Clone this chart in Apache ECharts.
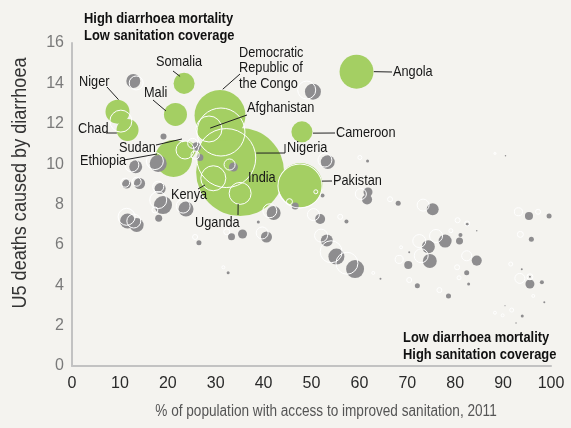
<!DOCTYPE html>
<html>
<head>
<meta charset="utf-8">
<script src="https://cdn.jsdelivr.net/npm/echarts@6/dist/echarts.min.js"></script>
<style>
  html, body { margin: 0; padding: 0; background: #f4f3ef; }
  #chart { width: 571px; height: 428px; }
</style>
</head>
<body>
<div id="chart"></div>
<script>
// Axis ticks
const xTicks = [0, 10, 20, 30, 40, 50, 60, 70, 80, 90, 100];
const yTicks = [0, 2, 4, 6, 8, 10, 12, 14, 16];

// Highlighted countries: sanitation access (%), share of U5 deaths from diarrhoea (%), deaths (thousands)
const hiNames  = ['India', 'Nigeria', 'Democratic Republic of the Congo', 'Pakistan', 'Ethiopia', 'Angola', 'Afghanistan', 'Kenya', 'Niger', 'Mali', 'Chad', 'Uganda', 'Somalia', 'Cameroon', 'Sudan'];
const hiAccess = [35.1, 32.2, 30.9, 47.7, 21.2, 59.4, 28.7, 29.5,  9.5, 21.6, 11.6, 35.1, 23.4, 48.0, 24.0];
const hiShare  = [9.61, 10.30, 12.41, 8.96, 10.28, 14.58, 11.72, 9.30, 12.60, 12.46, 11.69, 8.55, 14.00, 11.60, 10.70];
const hiDeaths = [215, 97, 72, 54, 38, 32, 19, 17.4, 16, 14.7, 13.4, 13.4, 12.3, 12.3, 9];

// All other countries
const otherAccess = [12.8, 19.1, 26.0, 26.7, 33.7, 13.3, 18.0, 11.4, 14.1, 18.4, 19.0, 18.1, 23.8, 11.6, 13.5, 26.5,
  33.3, 35.6, 40.6, 42.1, 46.6, 38.9, 51.8, 57.3, 53.2, 55.2, 59.1, 53.4, 61.7, 61.8, 61.6, 52.3,
  68.1, 75.3, 74.4, 77.9, 80.9, 81.1, 82.5, 74.7, 70.2, 84.5, 82.4, 82.8, 72.1, 78.6, 70.4, 64.4,
  95.4, 99.6, 95.9, 95.6, 95.6, 98.1, 98.6, 94.0, 84.5, 93.9, 32.6, 50.3, 90.5, 92.7, 90.4];
const otherShare = [14.12, 11.37, 10.86, 10.33, 9.86, 9.87, 10.03, 9.01, 9.04, 8.79, 7.97, 7.32, 7.78, 7.18, 6.98, 6.11,
  6.40, 6.54, 6.39, 7.58, 7.92, 7.13, 7.28, 7.16, 6.22, 5.42, 4.80, 10.10, 10.15, 8.62, 8.25, 8.45,
  8.06, 7.76, 5.91, 6.19, 6.19, 6.49, 7.02, 5.20, 5.00, 5.22, 4.62, 4.06, 3.98, 3.47, 5.63, 4.32,
  7.43, 7.43, 6.28, 4.06, 4.42, 4.15, 3.16, 2.48, 6.70, 4.79, 4.62, 13.59, 10.42, 2.13, 2.99];
const otherDeaths = [5.4, 1, 2.25, 1.36, 2.25, 4.7, 8, 2.25, 3.4, 3.4, 9, 1.36, 6.25, 6.25, 5.4, 0.7,
  1.36, 2.25, 3.4, 5.4, 1.36, 0.25, 2.8, 0.45, 4, 7.1, 9, 5.4, 0.25, 2.25, 2.8, 0.45,
  0.7, 4, 4.7, 4.7, 1.36, 0.45, 0.25, 5.4, 1.8, 2.8, 0.7, 0.25, 0.7, 0.7, 0.11, 0.11,
  1.8, 0.7, 0.7, 2.25, 0.11, 0.45, 0.11, 0.25, 0.06, 0.11, 0.25, 7.1, 0.06, 0.06, 0.03];

// Outline circles
const ringAccess = [10.2, 28.6, 31.1, 32.2, 23.6, 25.2, 25.7, 29.5, 35.1, 32.9, 47.6, 50.9, 45.4, 13.4, 49.0, 12.5,
  17.3, 11.1, 13.5, 18.0, 18.0, 17.3, 11.4, 12.9, 23.2, 25.7, 52.8, 41.3, 50.4, 56.0, 39.7, 52.0,
  54.1, 57.4, 60.1, 60.3, 66.4, 62.9, 73.3, 72.5, 76.0, 72.9, 68.3, 82.4, 93.2, 97.3, 93.6, 93.5,
  80.5, 79.1, 80.4, 80.8, 70.4, 76.7, 68.7, 91.8, 88.3, 89.9, 91.6, 96.3, 95.6, 82.5, 88.3, 31.6, 32.3];
const ringShare = [12.13, 11.74, 11.59, 10.30, 10.70, 11.03, 10.45, 9.30, 8.55, 9.98, 8.92, 8.63, 8.14, 14.02, 13.67, 9.96,
  10.15, 9.08, 9.13, 8.88, 8.22, 7.73, 7.39, 7.18, 7.92, 6.39, 10.20, 7.69, 7.50, 7.39, 6.59, 6.46,
  5.66, 5.09, 10.33, 8.52, 8.26, 4.61, 7.97, 6.19, 6.44, 5.46, 5.28, 5.46, 7.64, 7.64, 6.52, 4.34,
  7.22, 6.70, 4.89, 4.37, 4.26, 3.76, 5.88, 2.77, 2.64, 2.51, 5.05, 3.47, 4.42, 7.06, 10.53, 4.89, 6.65];
const ringDeaths = [13.4, 18.8, 64, 96.7, 9, 2.8, 1.8, 17.4, 13.4, 3.4, 54, 0.45, 1, 5.4, 9, 5.4,
  8, 2.25, 2.25, 3.4, 8, 1, 8, 5.4, 5.4, 0.7, 5.4, 5.4, 4, 0.7, 4, 4.7,
  13.4, 13.4, 0.45, 3.4, 0.7, 0.25, 4, 4.7, 4.7, 5.4, 1.8, 2.8, 1.8, 0.7, 1, 2.8,
  0.7, 0.45, 0.7, 0.45, 0.7, 0.7, 0.25, 0.45, 0.25, 0.25, 0.45, 0.25, 1, 0.7, 0.11, 0.25, 1];

const FONT = '"Liberation Sans", Arial, sans-serif';
const NARROW = 0.85;   // horizontal squeeze for a condensed look
const bubble = v => Math.sqrt(v[2]) * 6;

const zip = (xs, ys, vs, names) => xs.map((x, i) => names ? [x, ys[i], vs[i], names[i]] : [x, ys[i], vs[i]]);

const chart = echarts.init(document.getElementById('chart'), null, { renderer: 'canvas' });

chart.setOption({
  backgroundColor: '#f4f3ef',
  animation: false,
  grid: { left: 72, right: 20, top: 43, bottom: 62 },
  xAxis: {
    type: 'value', min: xTicks[0], max: xTicks[xTicks.length - 1], interval: 10,
    axisLine: { show: true, lineStyle: { color: '#c2c2c2', width: 2 } },
    axisTick: { show: false }, splitLine: { show: false },
    axisLabel: { color: '#2a2a2a', fontSize: 16, fontFamily: FONT, margin: 10 }
  },
  yAxis: {
    type: 'value', min: yTicks[0], max: yTicks[yTicks.length - 1], interval: 2,
    axisLine: { show: true, lineStyle: { color: '#c2c2c2', width: 2 } },
    axisTick: { show: false }, splitLine: { show: false },
    axisLabel: { color: '#7a7a7a', fontSize: 16, fontFamily: FONT, margin: 8 }
  },
  series: [
    {
      type: 'scatter', silent: true,
      data: zip(hiAccess, hiShare, hiDeaths, hiNames),
      symbolSize: bubble,
      itemStyle: { color: '#a4cf63', opacity: 1 }
    },
    {
      type: 'scatter', silent: true,
      data: zip(otherAccess, otherShare, otherDeaths),
      symbolSize: bubble,
      itemStyle: { color: '#8e8d8f', opacity: 1 }
    },
    {
      type: 'scatter', silent: true,
      data: zip(ringAccess, ringShare, ringDeaths),
      symbolSize: bubble,
      itemStyle: { color: 'rgba(0,0,0,0)', borderColor: '#ffffff', borderWidth: 1, opacity: 1 }
    }
  ]
});

// Country callouts: text placement plus a leader line ending near the bubble
const callouts = [
  { name: 'Somalia', text: 'Somalia', at: [156, 62], path: [[173, 71]], end: [-4, -7] },
  { name: 'Niger', text: 'Niger', at: [79, 82], path: [[107, 87]], end: [1, -12] },
  { name: 'Mali', text: 'Mali', at: [144, 93], path: [[153, 100]], end: [-9.5, -3.5] },
  { name: 'Chad', text: 'Chad', at: [78, 129], path: [[106, 133]], end: [-10.7, 3] },
  { name: 'Sudan', text: 'Sudan', at: [119, 148], path: [[156, 145]], end: [-5, -11] },
  { name: 'Ethiopia', text: 'Ethiopia', at: [80, 161], path: [[124, 160]], end: [-16.5, -4.5] },
  { name: 'Kenya', text: 'Kenya', at: [171, 195], path: [[198, 189]], end: [-8.3, 6.7] },
  { name: 'Uganda', text: 'Uganda', at: [195, 223], path: [[238, 215]], end: [-2, 10.7] },
  { name: 'India', text: 'India', at: [248, 178] },
  { name: 'Nigeria', text: 'Nigeria', at: [287, 148], path: [[285, 144], [285, 153]], end: [30, -5] },
  { name: 'Pakistan', text: 'Pakistan', at: [333, 181], path: [[332, 181]], end: [21.3, -4] },
  { name: 'Cameroon', text: 'Cameroon', at: [336, 133], path: [[335, 133]], end: [11, 1.3] },
  { name: 'Angola', text: 'Angola', at: [393, 72], path: [[392, 72]], end: [17.3, 0] },
  { name: 'Afghanistan', text: 'Afghanistan', at: [247, 108], path: [[247, 115]], end: [0.7, -1.3] },
  { name: 'Democratic Republic of the Congo', text: 'Democratic\nRepublic of\nthe Congo', at: [239, 45], multi: true,
    path: [[240, 74]], end: [2.7, -26.2] }
];

const elements = [];
callouts.forEach(c => {
  const i = hiNames.indexOf(c.name);
  if (c.path) {
    const centre = chart.convertToPixel({ seriesIndex: 0 }, [hiAccess[i], hiShare[i]]);
    const pts = c.path.concat([[centre[0] + c.end[0], centre[1] + c.end[1]]]);
    elements.push({
      type: 'polyline', silent: true, z: 10,
      shape: { points: pts },
      style: { stroke: '#222', lineWidth: 1, fill: null }
    });
  }
  elements.push({
    type: 'text', silent: true, z: 11, x: c.at[0], y: c.at[1], scaleX: NARROW,
    style: {
      text: c.text, fill: '#161616', font: '15px ' + FONT,
      textAlign: 'left', textVerticalAlign: c.multi ? 'top' : 'middle',
      lineHeight: 15.5
    }
  });
});

// Quadrant captions
const boldFont = 'bold 15px ' + FONT;
const caption = (text, x, y) => ({
  type: 'text', silent: true, z: 11, x, y, scaleX: 0.86,
  style: { text, font: boldFont, fill: '#111', textVerticalAlign: 'middle' }
});
elements.push(
  caption('High diarrhoea mortality', 84, 19),
  caption('Low sanitation coverage', 84, 36),
  caption('Low diarrhoea mortality', 403, 338),
  caption('High sanitation coverage', 403, 355)
);

// Axis titles
elements.push(
  { type: 'text', silent: true, x: 20, y: 183, rotation: Math.PI / 2, scaleX: 0.86,
    style: { text: 'U5 deaths caused by diarrhoea', font: '21px ' + FONT, fill: '#333', textAlign: 'center', textVerticalAlign: 'middle' } },
  { type: 'text', silent: true, x: 326, y: 412, scaleX: 0.85,
    style: { text: '% of population with access to improved sanitation, 2011', font: '16px ' + FONT, fill: '#555', textAlign: 'center', textVerticalAlign: 'middle' } }
);

chart.setOption({ graphic: { elements } });
</script>
</body>
</html>
